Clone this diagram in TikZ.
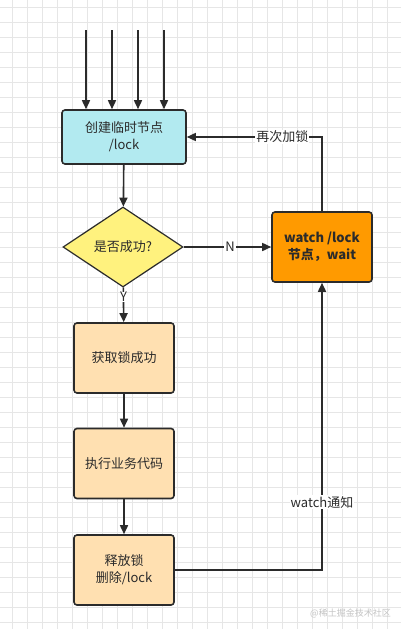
\documentclass[tikz,border=0pt]{standalone}
\usepackage{fontspec}
\setmainfont{Noto Sans CJK SC}
\usetikzlibrary{shapes.geometric,arrows.meta,calc}
\definecolor{gridc}{HTML}{E6E6E6}
\definecolor{linec}{HTML}{2B2B2B}
\definecolor{cyanf}{HTML}{B2EAF0}
\definecolor{yelf}{HTML}{FFF27E}
\definecolor{orf}{HTML}{FF9A00}
\definecolor{peachf}{HTML}{FFE0B1}
\definecolor{wmc}{HTML}{C4C4C4}
\tikzset{
  box/.style={draw=linec, line width=1.6pt, rounded corners=3pt, align=center,
    inner sep=0pt, font=\fontsize{13pt}{17pt}\selectfont, text=linec},
  dia/.style={diamond, draw=linec, line width=1.2pt, inner sep=0pt, fill=yelf,
    minimum width=120pt, minimum height=80pt, font=\fontsize{13pt}{17pt}\selectfont, text=linec},
  conn/.style={draw=linec, line width=1.6pt, -{Triangle[length=9pt,width=8pt]}},
  lbl/.style={fill=white, inner sep=1pt, font=\fontsize{13pt}{15pt}\selectfont, text=linec},
}
\begin{document}
\begin{tikzpicture}[x=1pt,y=-1pt]
\useasboundingbox (0,0) rectangle (401,629);
\fill[white] (0,0) rectangle (401,629);
% grid
\foreach \gx in {0,...,26} {
  \draw[gridc, line width=0.7pt] ({12.3+15*\gx},0) -- ({12.3+15*\gx},629);
}
\foreach \gy in {0,...,41} {
  \draw[gridc, line width=0.7pt] (0,{7.3+15*\gy}) -- (401,{7.3+15*\gy});
}
% nodes
\node[box, fill=cyanf, minimum width=124pt, minimum height=54pt] (create) at (124,137) {创建临时节点\\/lock};
\node[dia] (ok) at (123,247) {是否成功?};
\node[box, fill=orf, minimum width=100pt, minimum height=70pt, font=\fontsize{13pt}{17pt}\selectfont\bfseries] (watch) at (322,247) {watch /lock\\节点，wait};
\node[box, fill=peachf, minimum width=100pt, minimum height=70pt] (got) at (124,358) {获取锁成功};
\node[box, fill=peachf, minimum width=100pt, minimum height=70pt] (exec) at (124,463.5) {执行业务代码};
\node[box, fill=peachf, minimum width=100pt, minimum height=70pt] (rel) at (124,570) {释放锁\\删除/lock};
% incoming arrows
\coordinate (s1) at (86,30);
\coordinate (s2) at (112,30);
\coordinate (s3) at (138,30);
\coordinate (s4) at (164,30);
\foreach \s in {s1,s2,s3,s4} {
  \draw[conn] (\s) -- (\s |- create.north);
}
% flow
\draw[conn] (create) -- (ok);
\draw[conn] (ok) -- node[lbl, pos=0.53] {N} (watch);
\draw[conn] (ok) -- node[lbl, pos=0.28, inner sep=0.5pt] {Y} (got);
\draw[conn] (got) -- (exec);
\draw[conn] (exec) -- (rel);
\draw[conn] (watch.north) |- node[lbl, pos=0.647] {再次加锁} (create.east);
\draw[conn] (rel.east) -| node[lbl, pos=0.618] {watch通知} (watch.south);
% watermark
\node[text=wmc, font=\fontsize{9pt}{10pt}\selectfont, inner sep=0pt] (wm) at (350.5,613) {@稀土掘金技术社区};
\end{tikzpicture}
\end{document}
